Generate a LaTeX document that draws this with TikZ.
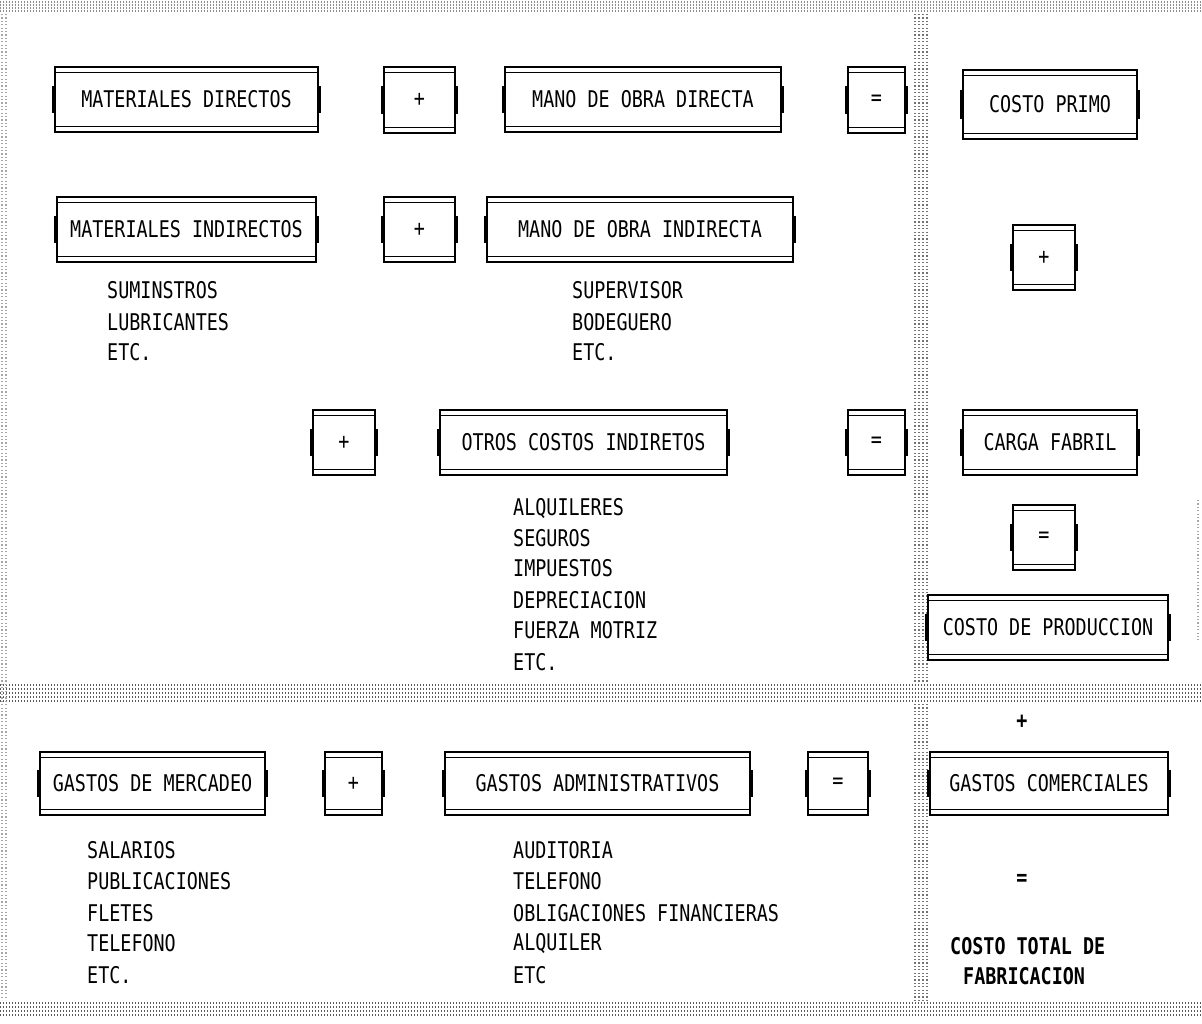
\documentclass[tikz,border=0pt]{standalone}
\usepackage{fontspec}
\usepackage{graphicx}
\newfontfamily\monof{DejaVu Sans Mono}
\usetikzlibrary{calc}
\newcommand\tx[1]{\scalebox{0.8}[1]{#1}}
\tikzset{
 bx/.style={draw, line width=2.4pt, rectangle, inner sep=0pt, font=\monof\fontsize{23}{27}\selectfont,
  path picture={\draw[line width=1.3pt] ([yshift=-5.5pt]path picture bounding box.north west) -- ([yshift=-5.5pt]path picture bounding box.north east);
  \draw[line width=1.3pt] ([yshift=5.5pt]path picture bounding box.south west) -- ([yshift=5.5pt]path picture bounding box.south east);}},
 lbl/.style={anchor=west, inner sep=0pt, font=\monof\fontsize{23}{27}\selectfont},
 bld/.style={anchor=west, inner sep=0pt, font=\monof\bfseries\fontsize{23}{27}\selectfont},
 op/.style={inner sep=0pt, font=\monof\bfseries\fontsize{23}{27}\selectfont},
 notch/.style={line width=2pt},
 dotl/.style={line width=1.6pt, black!65, dash pattern=on 1.2pt off 1.8pt},
 dotv/.style={line width=1.4pt, black!55, dash pattern=on 1.2pt off 2.2pt},
}
\newcommand\mkbox[6]{%
 \node[bx, minimum width={(#4)-(#2)}, minimum height={(#5)-(#3)}] (#1) at ({(#2+#4)/2},{(#3+#5)/2}) {\tx{#6}};
 \draw[notch] ($(#1.north west)!0.3!(#1.south west)+(-1pt,0)$) -- ($(#1.north west)!0.7!(#1.south west)+(-1pt,0)$);
 \draw[notch] ($(#1.north east)!0.3!(#1.south east)+(1pt,0)$) -- ($(#1.north east)!0.7!(#1.south east)+(1pt,0)$);
}
\begin{document}
\begin{tikzpicture}[x=1pt,y=-1pt]
\fill[white] (0,0) rectangle (1202,1023);
\useasboundingbox (0,0) rectangle (1202,1023);
% dotted separators
\foreach \yy in {2,5,8,11} \draw[dotl, black!45] (0,\yy) -- (1202,\yy);
\foreach \yy in {685,689,693,697,701} \draw[dotl] (0,\yy) -- (1202,\yy);
\foreach \yy in {1003,1007,1011,1015} \draw[dotl] (0,\yy) -- (1202,\yy);
\foreach \xx in {915,919,923,927} \draw[dotv] (\xx,14) -- (\xx,682);
\foreach \xx in {915,919,923,927} \draw[dotv] (\xx,704) -- (\xx,1000);
\foreach \xx in {2,6} \draw[dotv, black!35] (\xx,14) -- (\xx,1000);
\draw[dotv, black!35] (1198,500) -- (1198,640);
% row 1
\mkbox{md}{55}{67}{318}{132}{MATERIALES DIRECTOS}
\mkbox{p1}{384}{67}{455}{133}{+}
\mkbox{mod}{505}{67}{781}{132}{MANO DE OBRA DIRECTA}
\mkbox{e1}{848}{67}{905}{133}{=}
\mkbox{cp}{963}{70}{1137}{139}{COSTO PRIMO}
% row 2
\mkbox{mi}{57}{197}{316}{262}{MATERIALES INDIRECTOS}
\mkbox{p2}{384}{197}{455}{262}{+}
\mkbox{moi}{487}{197}{793}{262}{MANO DE OBRA INDIRECTA}
\mkbox{p3}{1013}{225}{1075}{290}{+}
\node[lbl] (l1) at (107,290) {\tx{SUMINSTROS}};
\node[lbl] (l2) at (107,322) {\tx{LUBRICANTES}};
\node[lbl] (l3) at (107,352) {\tx{ETC.}};
\node[lbl] (s1) at (572,290) {\tx{SUPERVISOR}};
\node[lbl] (s2) at (572,322) {\tx{BODEGUERO}};
\node[lbl] (s3) at (572,352) {\tx{ETC.}};
% row 3
\mkbox{p4}{313}{410}{375}{475}{+}
\mkbox{oci}{440}{410}{727}{475}{OTROS COSTOS INDIRETOS}
\mkbox{e2}{848}{410}{905}{475}{=}
\mkbox{cf}{963}{410}{1137}{475}{CARGA FABRIL}
\mkbox{e3}{1013}{505}{1075}{570}{=}
\mkbox{cpr}{928}{595}{1168}{660}{COSTO DE PRODUCCION}
\node[lbl] (a1) at (513,508) {\tx{ALQUILERES}};
\node[lbl] (a2) at (513,538) {\tx{SEGUROS}};
\node[lbl] (a3) at (513,568) {\tx{IMPUESTOS}};
\node[lbl] (a4) at (513,600) {\tx{DEPRECIACION}};
\node[lbl] (a5) at (513,630) {\tx{FUERZA MOTRIZ}};
\node[lbl] (a6) at (513,662) {\tx{ETC.}};
% lower section
\node[op] (p5) at (1022,722) {\tx{+}};
\mkbox{gm}{40}{752}{265}{815}{GASTOS DE MERCADEO}
\mkbox{p6}{325}{752}{382}{815}{+}
\mkbox{ga}{445}{752}{750}{815}{GASTOS ADMINISTRATIVOS}
\mkbox{e4}{808}{752}{868}{815}{=}
\mkbox{gc}{930}{752}{1168}{815}{GASTOS COMERCIALES}
\node[lbl] (g1) at (87,850) {\tx{SALARIOS}};
\node[lbl] (g2) at (87,881) {\tx{PUBLICACIONES}};
\node[lbl] (g3) at (87,913) {\tx{FLETES}};
\node[lbl] (g4) at (87,943) {\tx{TELEFONO}};
\node[lbl] (g5) at (87,975) {\tx{ETC.}};
\node[lbl] (h1) at (513,850) {\tx{AUDITORIA}};
\node[lbl] (h2) at (513,881) {\tx{TELEFONO}};
\node[lbl] (h3) at (513,913) {\tx{OBLIGACIONES FINANCIERAS}};
\node[lbl] (h4) at (513,943) {\tx{ALQUILER}};
\node[lbl] (h5) at (513,975) {\tx{ETC}};
\node[op] (e5) at (1022,880) {\tx{=}};
\node[bld] (t1) at (950,946) {\tx{COSTO TOTAL DE}};
\node[bld] (t2) at (963,976) {\tx{FABRICACION}};
\end{tikzpicture}
\end{document}
